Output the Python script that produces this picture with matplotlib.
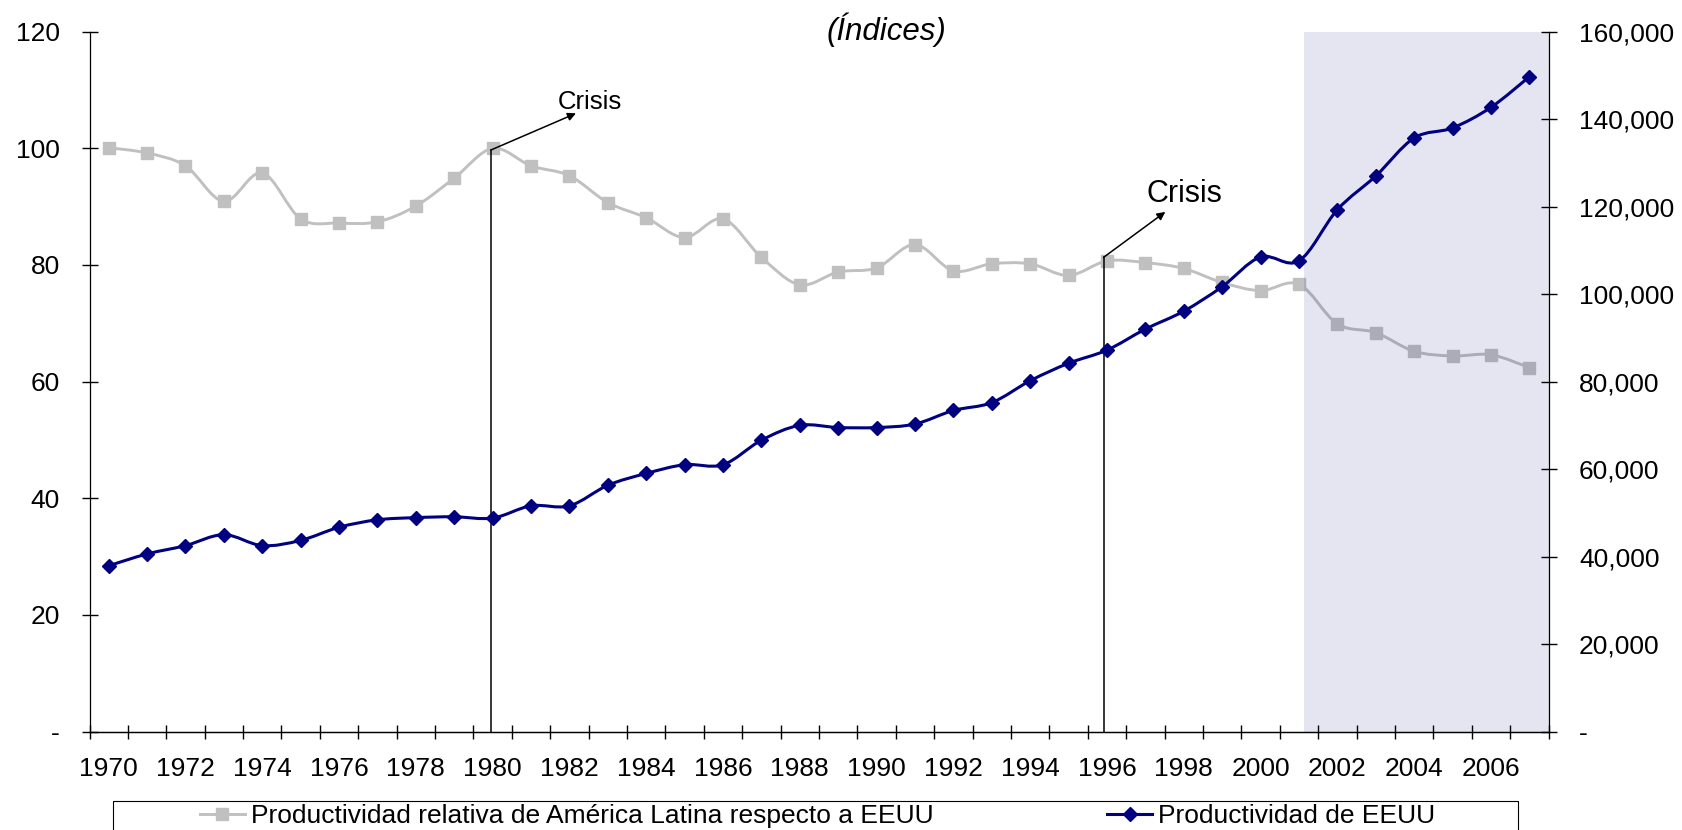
import numpy as np
import matplotlib
matplotlib.use('Agg')
import matplotlib.pyplot as plt
from matplotlib.path import Path
from matplotlib.patches import PathPatch, Rectangle
from matplotlib.lines import Line2D

plt.rcParams['font.family'] = ['Liberation Sans', 'DejaVu Sans']

# data
years = list(range(1970, 2008))
rel_al = [100.1, 99.2, 97.0, 90.9, 95.8, 87.9, 87.2, 87.4, 90.1, 94.9,
          100.0, 97.0, 95.3, 90.7, 88.1, 84.7, 87.9, 81.3, 76.6, 78.8,
          79.5, 83.5, 79.0, 80.2, 80.2, 78.2, 80.7, 80.4, 79.4, 77.0,
          75.6, 76.7, 69.9, 68.4, 65.2, 64.4, 64.6, 62.4]
prod_eeuu = [37900, 40600, 42500, 45000, 42500, 43700, 46700, 48400, 48900, 49100,
             48800, 51600, 51600, 56300, 59000, 61000, 61000, 66600, 70000, 69500,
             69500, 70300, 73400, 75200, 80200, 84200, 87200, 92000, 96100, 101700,
             108500, 107600, 119300, 127000, 135700, 138000, 142700, 149700]
left_ticks = [0, 20, 40, 60, 80, 100, 120]
right_ticks = [0, 20000, 40000, 60000, 80000, 100000, 120000, 140000, 160000]
label_al = 'Productividad relativa de América Latina respecto a EEUU'
label_us = 'Productividad de EEUU'


def smooth_path(x, y):
    # excel-like smoothed line as bezier segments through the data points
    x = np.asarray(x, float)
    y = np.asarray(y, float)
    n = len(x)
    verts = [(x[0], y[0])]
    codes = [Path.MOVETO]
    for i in range(n - 1):
        xa, ya = (x[i - 1], y[i - 1]) if i > 0 else (x[i], y[i])
        xb, yb = (x[i + 2], y[i + 2]) if i + 2 < n else (x[i + 1], y[i + 1])
        c1 = (x[i] + (x[i + 1] - xa) / 6., y[i] + (y[i + 1] - ya) / 6.)
        c2 = (x[i + 1] - (xb - x[i]) / 6., y[i + 1] - (yb - y[i]) / 6.)
        verts += [c1, c2, (x[i + 1], y[i + 1])]
        codes += [Path.CURVE4] * 3
    return Path(verts, codes)


idx = np.arange(len(years))
gray = '#C0C0C0'
navy = '#000080'
fs = 19

fig = plt.figure(figsize=(16.83, 8.3), dpi=100)
ax = fig.add_axes([0.05318, 0.11867, 0.86691, 0.84313])
ax2 = ax.twinx()

# left axis: relative productivity
ax.add_patch(PathPatch(smooth_path(idx, rel_al), fill=False, edgecolor=gray, lw=2.1, zorder=2))
ax.plot(idx, rel_al, ls='none', marker='s', ms=8, color=gray, zorder=2.5)
ax.axvspan(31.12, 37.5, color='navy', alpha=0.1, lw=0, zorder=3)

# right axis: US productivity
ax2.add_patch(PathPatch(smooth_path(idx, prod_eeuu), fill=False, edgecolor=navy, lw=2.2, zorder=2))
ax2.plot(idx, prod_eeuu, ls='none', marker='D', ms=7.5, color=navy, zorder=2.5)

ax.set_xlim(-0.5, 37.5)
ax.set_ylim(0, 120)
ax2.set_ylim(0, 160000)

ax.set_xticks(np.arange(-0.5, 38, 1))
ax.set_xticklabels([])
ax.set_xticks(idx[::2], [str(y) for y in years[::2]], minor=True)
ax.tick_params(axis='x', which='major', direction='inout', length=10, width=1)
ax.tick_params(axis='x', which='minor', length=0, pad=18.5, labelsize=fs)

ax.set_yticks(left_ticks, ['-' if v == 0 else str(v) for v in left_ticks])
ax.tick_params(axis='y', direction='inout', length=11, width=1, pad=16, labelsize=fs)
ax2.set_yticks(right_ticks, ['-' if v == 0 else f'{v:,}' for v in right_ticks])
ax2.tick_params(axis='y', direction='inout', length=12, width=1, pad=16, labelsize=fs)

for a in (ax, ax2):
    a.spines['top'].set_visible(False)
    for s in a.spines.values():
        s.set_linewidth(0.9)
ax.spines['right'].set_visible(False)
ax2.spines['left'].set_visible(False)

# crisis markers
ax.plot([9.95, 9.95], [0, 99.7], color='black', lw=1.1, zorder=4)
ax.annotate('', xy=(12.17, 106.0), xytext=(9.95, 99.7),
            arrowprops=dict(arrowstyle='-|>', color='black', lw=1.1,
                            mutation_scale=12, shrinkA=0, shrinkB=0), zorder=4)
ax.text(11.70, 107.9, 'Crisis', fontsize=18.5, va='center', ha='left')

ax.plot([25.91, 25.91], [0, 81.3], color='black', lw=1.1, zorder=4)
ax.annotate('', xy=(27.52, 89.1), xytext=(25.91, 81.3),
            arrowprops=dict(arrowstyle='-|>', color='black', lw=1.1,
                            mutation_scale=12, shrinkA=0, shrinkB=0), zorder=4)
ax.text(27.04, 92.2, 'Crisis', fontsize=22, va='center', ha='left')

fig.text(0.5265, 0.9639, '(Índices)', ha='center', va='center', fontsize=22.5, style='italic')

# legend, frame cut off by the bottom edge
h1 = Line2D([], [], color=gray, lw=2.1, marker='s', ms=8)
h2 = Line2D([], [], color=navy, lw=2.2, marker='D', ms=7.5)
fig.legend([h1, h2], [label_al, label_us], loc='center left',
           bbox_to_anchor=(200 / 1683., 1 - 816 / 830.), ncol=2, frameon=False,
           borderpad=0, borderaxespad=0, handlelength=1.7, handletextpad=0.22,
           columnspacing=6.6, fontsize=fs)
fig.patches.append(Rectangle((0.0673, -0.05), 0.8345, 0.0853, transform=fig.transFigure,
                             fill=False, edgecolor='black', lw=0.8))

fig.savefig('out.png', dpi=100)
